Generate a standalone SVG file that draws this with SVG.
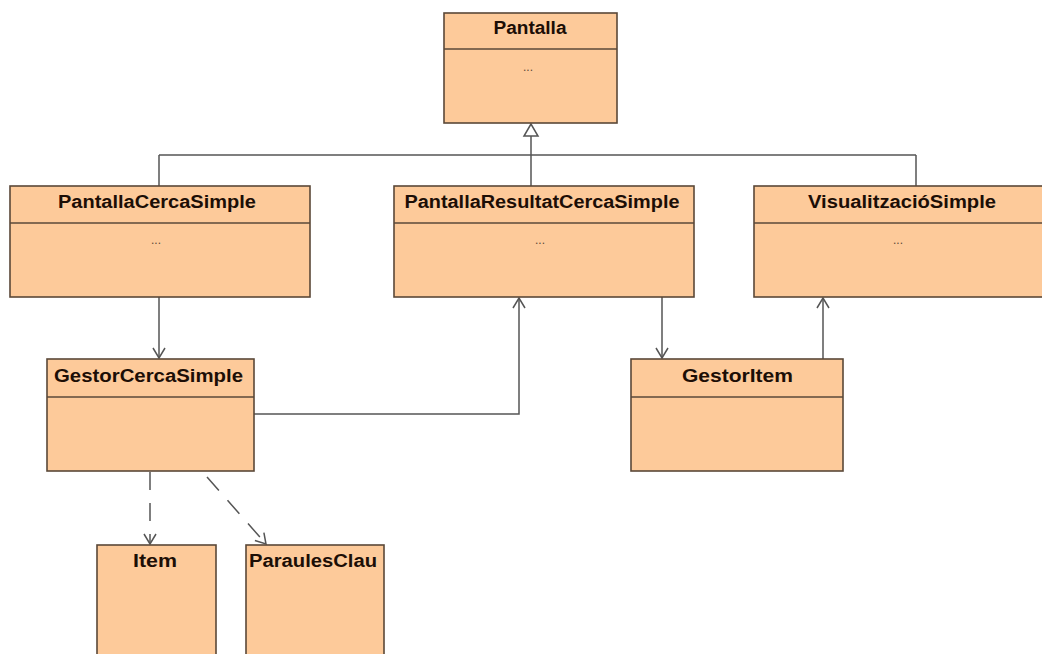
<svg xmlns="http://www.w3.org/2000/svg" width="1042" height="654" viewBox="0 0 1042 654">
  <style>
    .box { fill: #fdca9a; stroke: #5a4838; stroke-width: 1.6; }
    .div { stroke: #5a4838; stroke-width: 1.6; }
    .title { font-family: "Liberation Sans", Arial, sans-serif; font-weight: bold; font-size: 18px; fill: #1c0e06; text-anchor: middle; }
    .dots { font-family: "Liberation Sans", Arial, sans-serif; font-size: 12px; fill: #5e4838; text-anchor: middle; }
    .link { fill: none; stroke: #555555; stroke-width: 1.5; }
    .dash { stroke-dasharray: 18 13; }
  </style>
  <defs>
    <marker id="open" markerUnits="userSpaceOnUse" viewBox="0 0 12 14" refX="11" refY="7" markerWidth="12" markerHeight="14" orient="auto">
      <path d="M1,1 L11,7 L1,13" fill="none" stroke="#555555" stroke-width="1.5" stroke-dasharray="none"/>
    </marker>
  </defs>
  <rect width="1042" height="654" fill="#ffffff"/>

  <!-- connectors -->
  <g id="connectors">
    <!-- generalization tree -->
    <path class="link" d="M531,136 V186 M159,155 H916 M159,155 V186 M916,155 V186"/>
    <polygon points="531,124 524,136 538,136" fill="#ffffff" stroke="#555555" stroke-width="1.5"/>
    <!-- associations -->
    <path class="link" d="M159,297 V358" marker-end="url(#open)"/>
    <path class="link" d="M254,414 H519 V298" marker-end="url(#open)"/>
    <path class="link" d="M662,297 V358" marker-end="url(#open)"/>
    <path class="link" d="M823,359 V298" marker-end="url(#open)"/>
    <!-- dependencies -->
    <path class="link dash" d="M150,472 V544" marker-end="url(#open)"/>
    <path class="link dash" d="M207,477 L266,544" marker-end="url(#open)"/>
  </g>

  <g id="Pantalla">
    <rect class="box" x="444" y="13" width="173" height="110"/>
    <line class="div" x1="444" y1="49" x2="617" y2="49"/>
    <text class="title" x="530" y="34" textLength="73" lengthAdjust="spacingAndGlyphs">Pantalla</text>
    <text class="dots" x="528" y="71">...</text>
  </g>

  <g id="PantallaCercaSimple">
    <rect class="box" x="10" y="186" width="300" height="111"/>
    <line class="div" x1="10" y1="223" x2="310" y2="223"/>
    <text class="title" x="157" y="208" textLength="198" lengthAdjust="spacingAndGlyphs">PantallaCercaSimple</text>
    <text class="dots" x="156" y="244">...</text>
  </g>

  <g id="PantallaResultatCercaSimple">
    <rect class="box" x="394" y="186" width="300" height="111"/>
    <line class="div" x1="394" y1="223" x2="694" y2="223"/>
    <text class="title" x="542" y="208" textLength="275" lengthAdjust="spacingAndGlyphs">PantallaResultatCercaSimple</text>
    <text class="dots" x="540" y="244">...</text>
  </g>

  <g id="VisualitzacioSimple">
    <rect class="box" x="754" y="186" width="300" height="111"/>
    <line class="div" x1="754" y1="223" x2="1054" y2="223"/>
    <text class="title" x="902" y="208" textLength="188" lengthAdjust="spacingAndGlyphs">VisualitzacióSimple</text>
    <text class="dots" x="898" y="244">...</text>
  </g>

  <g id="GestorCercaSimple">
    <rect class="box" x="47" y="359" width="207" height="112"/>
    <line class="div" x1="47" y1="397" x2="254" y2="397"/>
    <text class="title" x="148.5" y="382" textLength="189" lengthAdjust="spacingAndGlyphs">GestorCercaSimple</text>
  </g>

  <g id="GestorItem">
    <rect class="box" x="631" y="359" width="212" height="112"/>
    <line class="div" x1="631" y1="397" x2="843" y2="397"/>
    <text class="title" x="737.5" y="382" textLength="111" lengthAdjust="spacingAndGlyphs">GestorItem</text>
  </g>

  <g id="Item">
    <rect class="box" x="97" y="545" width="119" height="120"/>
    <text class="title" x="155" y="567" textLength="44" lengthAdjust="spacingAndGlyphs">Item</text>
  </g>

  <g id="ParaulesClau">
    <rect class="box" x="246" y="545" width="138" height="120"/>
    <text class="title" x="313" y="567" textLength="128" lengthAdjust="spacingAndGlyphs">ParaulesClau</text>
  </g>
</svg>
